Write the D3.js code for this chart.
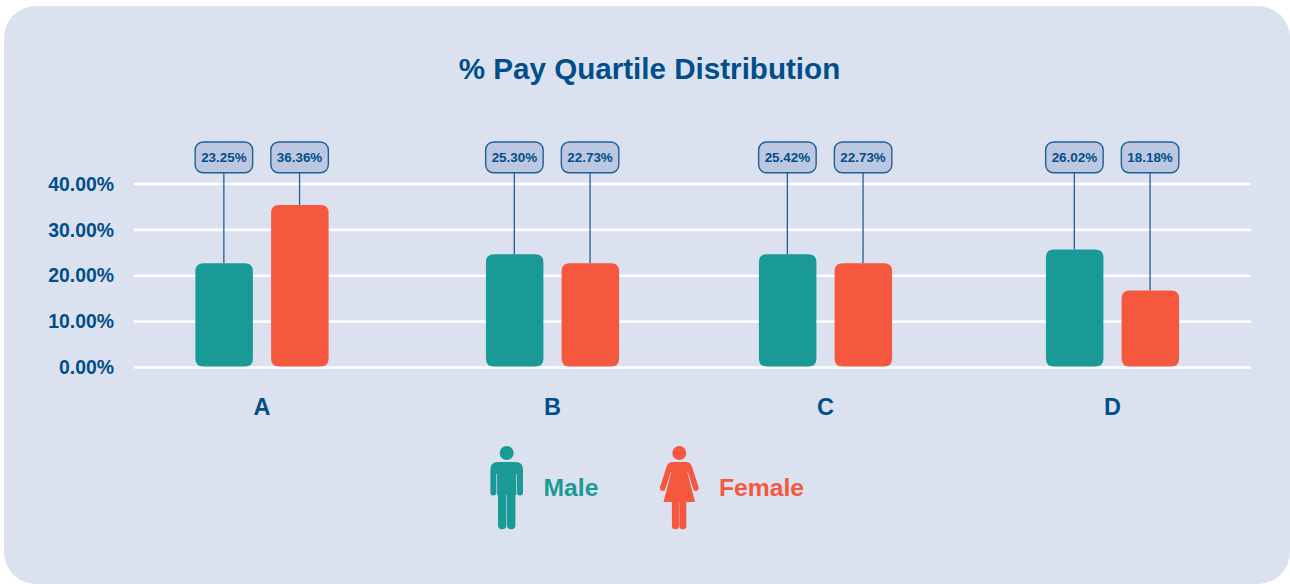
<!DOCTYPE html>
<html><head><meta charset="utf-8">
<script src="https://cdn.jsdelivr.net/npm/d3@7"></script>
<style>html,body{margin:0;padding:0;background:#fff}svg{display:block}text{font-family:"Liberation Sans",Arial,sans-serif;font-weight:700}</style>
</head><body><svg id="c" width="1290" height="584"></svg>
<script>
const categories = ["A","B","C","D"];
const maleValues = [22.7,24.7,24.7,25.7];
const femaleValues = [35.4,22.7,22.7,16.8];
const maleLabels = ["23.25%","25.30%","25.42%","26.02%"];
const femaleLabels = ["36.36%","22.73%","22.73%","18.18%"];
const yTicks = [0,10,20,30,40];
const seriesNames = ["Male","Female"];
const titleText = "% Pay Quartile Distribution";

const NAVY="#004f8b", TEAL="#199a97", CORAL="#f5573f", BG="#dce1ef", LBL="#bcc8e1", LINE="#1f5f97";
const svg=d3.select("#c");
svg.append("rect").attr("x",4).attr("y",6).attr("width",1286).attr("height",578).attr("rx",32).attr("fill",BG);
svg.append("text").attr("x",649.5).attr("y",78.5).attr("text-anchor","middle").attr("font-size",29.6).attr("fill",NAVY).text(titleText);

const y=d3.scaleLinear().domain([0,40]).range([367.5,184]);
const cx=d3.scaleOrdinal().domain(categories).range([262,552.5,825.5,1112.5]);
const barW=57.5, gap=18.2, r=8, base=y(0)-1;

const axis=d3.axisLeft(y).tickValues(yTicks).tickSize(0).tickFormat(d=>d3.format(".2f")(d)+"%");
const ag=svg.append("g").attr("transform","translate(114,0)").call(axis);
ag.select(".domain").remove();
ag.selectAll("text").attr("x",0).attr("font-size",19.4).attr("fill",NAVY).style("font-family",'"Liberation Sans",Arial,sans-serif').style("font-weight",700);
svg.append("g").selectAll("line").data(yTicks).join("line")
  .attr("x1",134).attr("x2",1251).attr("y1",d=>y(d)).attr("y2",d=>y(d)).attr("stroke","#fff").attr("stroke-width",2.6);

function rounded(x,t,w,b,rad){
  const p=d3.path();
  p.moveTo(x+rad,t);p.lineTo(x+w-rad,t);p.quadraticCurveTo(x+w,t,x+w,t+rad);
  p.lineTo(x+w,b-rad);p.quadraticCurveTo(x+w,b,x+w-rad,b);
  p.lineTo(x+rad,b);p.quadraticCurveTo(x,b,x,b-rad);
  p.lineTo(x,t+rad);p.quadraticCurveTo(x,t,x+rad,t);p.closePath();
  return p.toString();
}
const rows=categories.flatMap((c,i)=>[
  {c,val:maleValues[i],label:maleLabels[i],off:-(barW+gap)/2,col:TEAL},
  {c,val:femaleValues[i],label:femaleLabels[i],off:(barW+gap)/2,col:CORAL}
]);
const g=svg.append("g");
g.selectAll("line").data(rows).join("line")
  .attr("x1",d=>cx(d.c)+d.off-.3).attr("x2",d=>cx(d.c)+d.off-.3)
  .attr("y1",158).attr("y2",d=>y(d.val)).attr("stroke",LINE).attr("stroke-width",1.3);
g.selectAll("path").data(rows).join("path")
  .attr("d",d=>rounded(cx(d.c)+d.off-barW/2,y(d.val),barW,base,r)).attr("fill",d=>d.col);
g.selectAll("rect").data(rows).join("rect")
  .attr("x",d=>cx(d.c)+d.off-29).attr("y",142).attr("width",57.5).attr("height",30.8).attr("rx",8)
  .attr("fill",LBL).attr("stroke",LINE).attr("stroke-width",1.4);
g.selectAll("text.v").data(rows).join("text").attr("class","v")
  .attr("x",d=>cx(d.c)+d.off-.3).attr("y",162).attr("text-anchor","middle").attr("font-size",13.4).attr("fill",NAVY).text(d=>d.label);
svg.append("g").selectAll("text").data(categories).join("text")
  .attr("x",d=>cx(d)).attr("y",414.5).attr("text-anchor","middle").attr("font-size",23.5).attr("fill",NAVY).text(d=>d);

const male=svg.append("g").attr("transform","translate(506.7,0)").attr("fill",TEAL);
male.append("circle").attr("cy",453).attr("r",7);
male.append("path").attr("d",
  "M-9,462 H9 Q16.3,462 16.3,469.5 V492.5 a3,3 0 0 1 -6,0 V474 H9.6 V495 H8.7 V525.5 a4.2,3.7 0 0 1 -8.4,0 V495 H-0.3 V525.5 a4.2,3.7 0 0 1 -8.4,0 V495 H-9.6 V474 H-10.3 V492.5 a3,3 0 0 1 -6,0 V469.5 Q-16.3,462 -9,462 Z");
const fem=svg.append("g").attr("transform","translate(679.3,0)").attr("fill",CORAL);
fem.append("circle").attr("cy",453).attr("r",7);
fem.append("path").attr("d",
  "M-7,462 H7 Q11,462 12.8,467 L19.2,487 a2.8,2.8 0 0 1 -5.3,2 L8.6,472 L8,472 L15.8,502 H7 V526 a3.5,3.3 0 0 1 -7,0 V502 H-0.4 V526 a3.5,3.3 0 0 1 -7,0 V502 H-15.8 L-8,472 L-8.6,472 L-13.9,489 a2.8,2.8 0 0 1 -5.3,-2 L-12.8,467 Q-11,462 -7,462 Z");
svg.append("g").selectAll("text").data(seriesNames).join("text")
  .attr("x",(d,i)=>[543.5,719][i]).attr("y",496).attr("font-size",24.7).attr("fill",(d,i)=>[TEAL,CORAL][i]).text(d=>d);
</script></body></html>
